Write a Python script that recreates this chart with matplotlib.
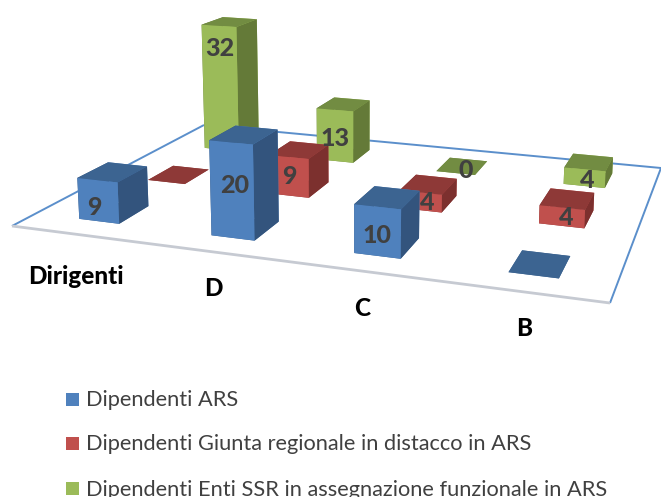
import numpy as np
import matplotlib
matplotlib.use('Agg')
import matplotlib.pyplot as plt
from matplotlib.patches import Rectangle
from mpl_toolkits.mplot3d.art3d import Line3DCollection

plt.rcParams['font.family'] = ['Lato', 'DejaVu Sans']

W, H = 661, 497

categories = ['Dirigenti', 'D', 'C', 'B']
series_names = ['Dipendenti ARS',
                'Dipendenti Giunta regionale in distacco in ARS',
                'Dipendenti Enti SSR in assegnazione funzionale in ARS']
ars = [9, 20, 10, 0]
giunta = [0, 9, 4, 4]
enti = [32, 13, 0, 4]
ars_labels = ['9', '20', '10', '']
giunta_labels = ['', '9', '4', '4']
enti_labels = ['32', '13', '0', '4']

series = [ars, giunta, enti]
labels = [ars_labels, giunta_labels, enti_labels]
front_colors = ['#4f81bd', '#c0504d', '#9bbb59']
top_colors = ['#3c6491', '#8e3937', '#728c42']
side_colors = ['#33547d', '#7c302e', '#647a38']

# small nudges of the value labels, the original places them unevenly
label_dx = [[-0.03, 0.02, 0, 0], [0, 0, 0.05, 0.03], [0, 0, 0.08, 0.02]]
label_dz = [[-1.5, 1.1, -0.8, 0], [0, 0, 0, 0], [10.2, -0.8, 0.9, -0.6]]

# camera: floor corners in picture pixels, and where the verticals meet
floor_px = [(12, 226), (610, 303), (661, 168), (204, 125)]
floor_xy = [(0, 0), (4, 0), (4, 3), (0, 3)]
vert_vp = (354, 6000)
px_per_unit = 4.6

# homography floor -> picture
A = []
b = []
for (x, y), (u, v) in zip(floor_xy, floor_px):
    A.append([x, y, 1, 0, 0, 0, -u * x, -u * y])
    A.append([0, 0, 0, x, y, 1, -v * x, -v * y])
    b += [u, v]
h = np.linalg.solve(np.array(A, float), np.array(b, float))
Hm = np.append(h, 1).reshape(3, 3)
w0 = Hm[2] @ [1.5, 0.5, 1]
py0 = (Hm[1] @ [1.5, 0.5, 1]) / w0
s = -px_per_unit * w0 / (vert_vp[1] - py0)
cam = np.column_stack([Hm[:, 0], Hm[:, 1], s * np.array([vert_vp[0], vert_vp[1], 1.0]), Hm[:, 2]])

fig = plt.figure(figsize=(W / 100, H / 100), dpi=100)
ax = fig.add_axes([-0.3, -0.3, 1.6, 1.6], projection='3d')
ax.computed_zorder = False


def get_proj():
    # picture pixels -> the axes' own 2D coordinates
    to_2d = ax.transData.inverted().get_matrix()
    flip = np.array([[1, 0, 0], [0, -1, H], [0, 0, 1.0]])
    m = to_2d @ flip @ cam
    return np.array([m[0], m[1], cam[2] + [0, 0, 0, -1], m[2]])


ax.get_proj = get_proj
ax.set_axis_off()

# floor outline
back_edges = [[(0, 0, 0), (0, 3, 0)], [(0, 3, 0), (4, 3, 0)], [(4, 3, 0), (4, 0, 0)]]
front_edge = [[(0, 0, 0), (4, 0, 0)]]
ax.add_collection3d(Line3DCollection(back_edges, colors='#5b8fcb', linewidths=1.4, zorder=3))
ax.add_collection3d(Line3DCollection(front_edge, colors='#c6cad2', linewidths=2, zorder=3))

wx = 0.31
wy = 0.42
order = 10
for j in [2, 1, 0]:
    for i in range(4):
        v = series[j][i]
        faces = [top_colors[j], top_colors[j], front_colors[j], front_colors[j], side_colors[j], side_colors[j]]
        ax.bar3d(i + 0.5 - wx / 2, j + 0.5 - wy / 2, 0, wx, wy, v, color=faces, shade=False,
                 linewidth=0, zorder=order)
        order += 1

ax.set_xlim(0, 4)
ax.set_ylim(0, 3)
ax.set_zlim(0, 35)
ax.set_xticks([])
ax.set_yticks([])
ax.set_zticks([])

# value labels on the front face of each bar
for j in range(3):
    for i in range(4):
        if labels[j][i] == '':
            continue
        p = cam @ [i + 0.5 + label_dx[j][i], j + 0.5 - wy / 2, series[j][i] * 0.5 + label_dz[j][i], 1]
        fig.text(p[0] / p[2] / W, 1 - p[1] / p[2] / H, labels[j][i], color='#404040', fontsize=18,
                 fontweight='black', ha='center', va='center', zorder=100)

cat_x = [76, 213, 362, 524]
cat_y = [276, 289, 308, 328]
for c, x, y in zip(categories, cat_x, cat_y):
    fig.text(x / W, 1 - y / H, c, fontsize=17.5, fontweight='black', ha='center', va='center', color='black')

leg_y = [399, 443, 488]
for k, name in enumerate(series_names):
    yy = 1 - leg_y[k] / H
    fig.add_artist(Rectangle((66 / W, yy - 6.5 / H), 13 / W, 13 / H, transform=fig.transFigure,
                             color=front_colors[k], lw=0))
    fig.text(86 / W, yy - 1.5 / H, name, fontsize=15.7, va='center', color='#404040')

fig.savefig('out.png', dpi=100)
